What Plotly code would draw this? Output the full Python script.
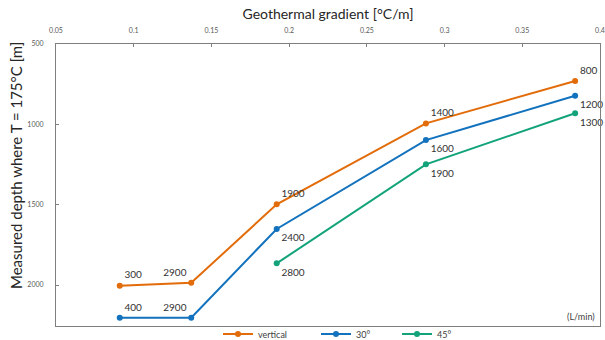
import plotly.graph_objects as go

# Data
x_vertical = [0.091, 0.137, 0.192, 0.288, 0.384]
y_vertical = [2004, 1986, 1498, 994, 730]
lab_vertical = ["300", "2900", "1900", "1400", "800"]

x_30 = [0.091, 0.137, 0.192, 0.288, 0.384]
y_30 = [2204, 2204, 1651, 1098, 822]
lab_30 = ["400", "2900", "2400", "1600", "1200"]

x_45 = [0.192, 0.288, 0.384]
y_45 = [1865, 1249, 931]
lab_45 = ["2800", "1900", "1300"]

x_ticks = [0.05, 0.1, 0.15, 0.2, 0.25, 0.3, 0.35, 0.4]
x_ticklabels = ["0.05", "0.1", "0.15", "0.2", "0.25", "0.3", "0.35", "0.4"]
y_ticks = [500, 1000, 1500, 2000]

FONT = "Lato"
ORANGE = "#E36C0A"
BLUE = "#1372BD"
GREEN = "#12A37A"

fig = go.Figure()

common = dict(mode="lines+markers+text", cliponaxis=False,
              textfont=dict(family=FONT, size=10, color="#333333"))

fig.add_trace(go.Scatter(
    x=x_vertical, y=y_vertical, name="vertical",
    text=lab_vertical, legend="legend",
    textposition=["top right", "top left", "top right", "top right", "top right"],
    line=dict(color=ORANGE, width=2), marker=dict(color=ORANGE, size=6), **common,
))
fig.add_trace(go.Scatter(
    x=x_30, y=y_30, name="30°",
    text=lab_30, legend="legend2",
    textposition=["top right", "top left", "bottom right", "bottom right", "bottom right"],
    line=dict(color=BLUE, width=2), marker=dict(color=BLUE, size=6), **common,
))
fig.add_trace(go.Scatter(
    x=x_45, y=y_45, name="45°",
    text=lab_45, legend="legend3",
    textposition=["bottom right", "bottom right", "bottom right"],
    line=dict(color=GREEN, width=2), marker=dict(color=GREEN, size=6), **common,
))

fig.add_annotation(
    x=1, y=0, xref="paper", yref="paper", xanchor="right", yanchor="bottom",
    xshift=-3, yshift=2, text="(L/min)", showarrow=False,
    font=dict(family=FONT, size=9, color="#404040"),
)
fig.add_annotation(
    x=(16 - 56) / 544, y=(326 - 166) / 282, xref="paper", yref="paper",
    xanchor="center", yanchor="middle", textangle=-90, showarrow=False,
    text="Measured depth where T = 175°C [m]",
    font=dict(family=FONT, size=15, color="#262626"),
)

def leg(xpx):
    return dict(
        orientation="h", x=xpx / 605, xref="container", y=6 / 340, yref="container",
        xanchor="left", yanchor="middle",
        font=dict(family=FONT, size=9, color="#404040"),
        itemwidth=30, bgcolor="rgba(0,0,0,0)",
    )

fig.update_layout(
    width=605, height=340,
    margin=dict(l=56, r=5, t=44, b=14, autoexpand=False),
    paper_bgcolor="white", plot_bgcolor="white",
    font=dict(family=FONT, color="#404040"),
    showlegend=True,
    legend=leg(218), legend2=leg(316), legend3=leg(397),
    xaxis=dict(
        side="top", range=[0.05, 0.4], tickvals=x_ticks, ticktext=x_ticklabels,
        showgrid=False, zeroline=False, showline=True, linecolor="#7F7F7F",
        linewidth=1, mirror=True, ticks="inside", ticklen=3, tickcolor="#7F7F7F",
        ticklabelstandoff=7,
        tickfont=dict(family=FONT, size=7, color="#595959"),
        title=dict(text="Geothermal gradient [°C/m]", standoff=3,
                   font=dict(family=FONT, size=14, color="#262626")),
    ),
    yaxis=dict(
        range=[2255, 500], tickvals=y_ticks,
        showgrid=False, zeroline=False, showline=True, linecolor="#7F7F7F",
        linewidth=1, mirror=True, ticks="inside", ticklen=3, tickcolor="#7F7F7F",
        ticklabelstandoff=10,
        tickfont=dict(family=FONT, size=7, color="#595959"),
    ),
)

fig.write_html("out.html")
